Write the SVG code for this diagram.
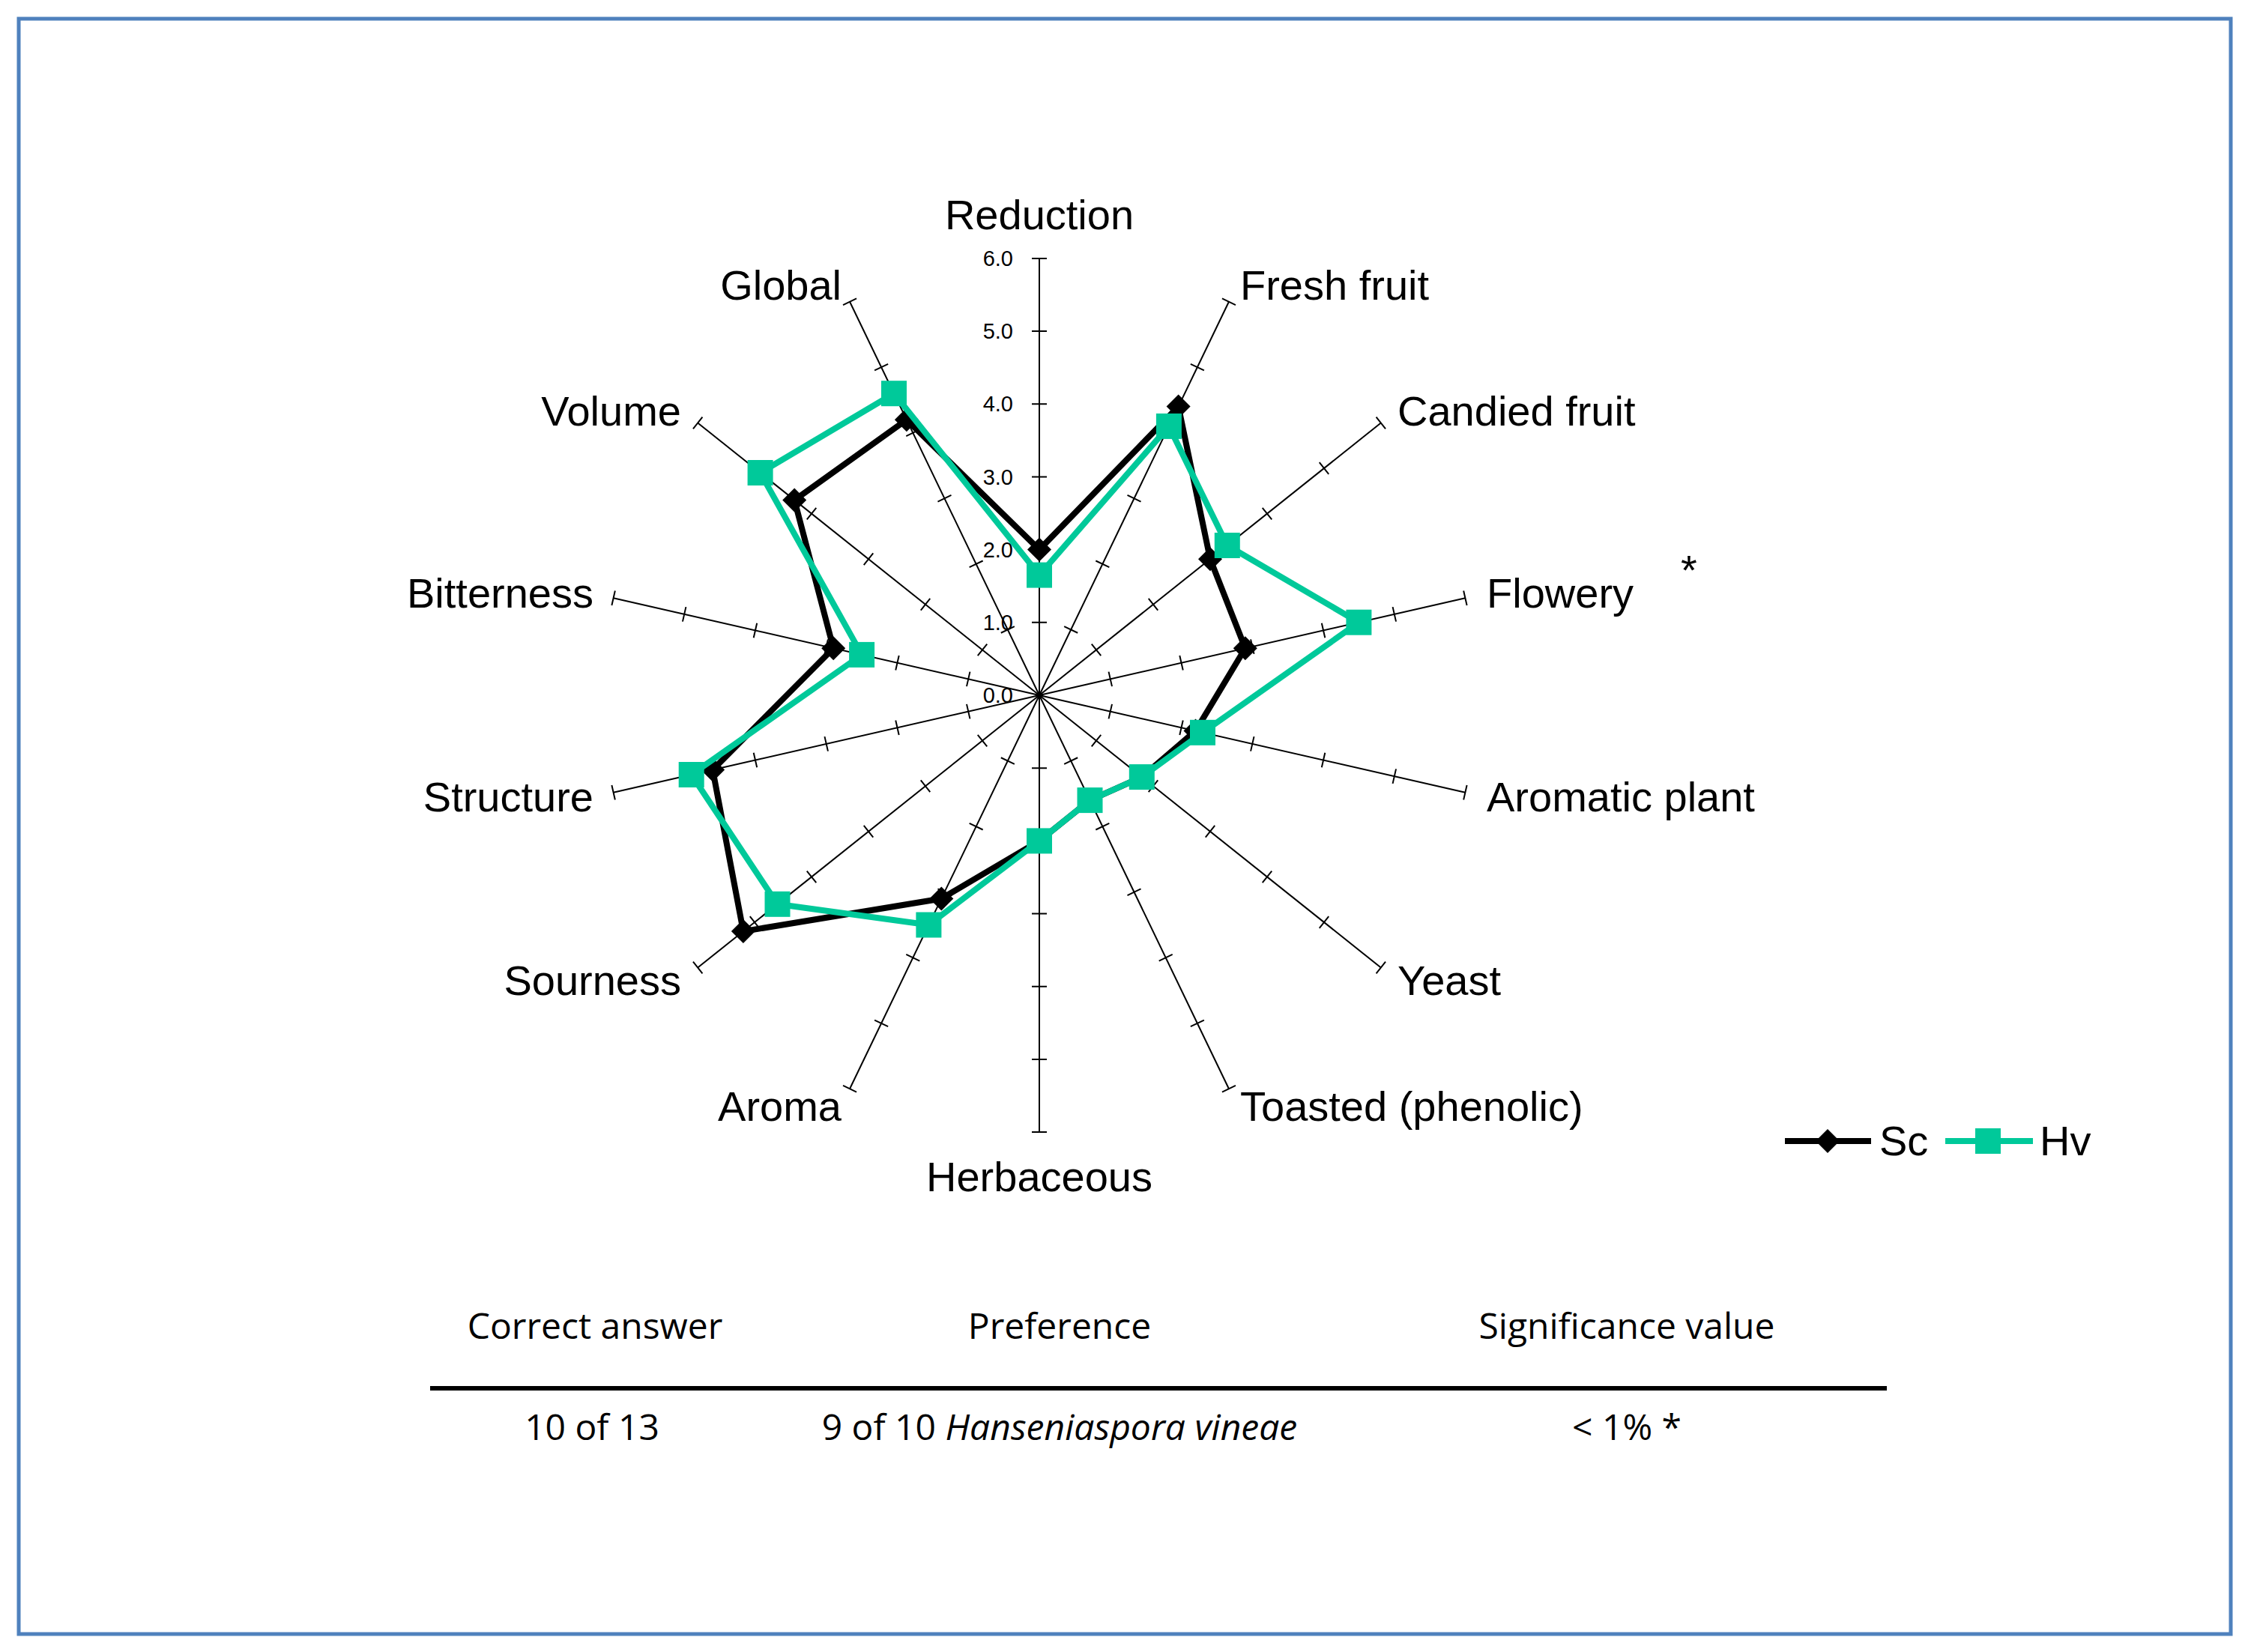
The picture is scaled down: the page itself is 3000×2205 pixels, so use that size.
<svg xmlns="http://www.w3.org/2000/svg" xmlns:xlink="http://www.w3.org/1999/xlink" width="3000" height="2205" viewBox="0 0 3000 2205">
<style>
.lbl{font-family:"Liberation Sans",Arial,sans-serif;font-size:56px;fill:#000}
.tk{font-family:"Liberation Sans",Arial,sans-serif;font-size:29px;fill:#000;text-anchor:end}
.tb{font-family:"Open Sans","Liberation Sans",sans-serif;font-size:48px;fill:#000;text-anchor:middle}
.ax{stroke:#000;stroke-width:2;fill:none}
.sc{stroke:#000;stroke-width:8;fill:none;stroke-linejoin:round}
.hv{stroke:#00C99A;stroke-width:8;fill:none;stroke-linejoin:round}
</style>
<defs>
<g id="axis">
<line class="ax" x1="1387" y1="928" x2="1387" y2="345"/>
<path class="ax" d="M1377 830.8h20M1377 733.6h20M1377 636.4h20M1377 539.2h20M1377 442h20M1377 345h20"/>
</g>
<marker id="dia" markerUnits="userSpaceOnUse" markerWidth="36" markerHeight="36" refX="18" refY="18"><path d="M18 2L34 18L18 34L2 18Z" fill="#000"/></marker>
<marker id="sq" markerUnits="userSpaceOnUse" markerWidth="36" markerHeight="36" refX="18" refY="18"><rect x="1" y="1" width="34" height="34" fill="#00C99A"/></marker>
</defs>
<rect x="25" y="25" width="2952" height="2156" fill="#fff" stroke="#4F81BD" stroke-width="5"/>
<g id="axes">
<use xlink:href="#axis"/>
<use xlink:href="#axis" transform="rotate(25.714 1387 928)"/>
<use xlink:href="#axis" transform="rotate(51.429 1387 928)"/>
<use xlink:href="#axis" transform="rotate(77.143 1387 928)"/>
<use xlink:href="#axis" transform="rotate(102.857 1387 928)"/>
<use xlink:href="#axis" transform="rotate(128.571 1387 928)"/>
<use xlink:href="#axis" transform="rotate(154.286 1387 928)"/>
<use xlink:href="#axis" transform="rotate(180 1387 928)"/>
<use xlink:href="#axis" transform="rotate(205.714 1387 928)"/>
<use xlink:href="#axis" transform="rotate(231.429 1387 928)"/>
<use xlink:href="#axis" transform="rotate(257.143 1387 928)"/>
<use xlink:href="#axis" transform="rotate(282.857 1387 928)"/>
<use xlink:href="#axis" transform="rotate(308.571 1387 928)"/>
<use xlink:href="#axis" transform="rotate(334.286 1387 928)"/>
</g>
<g id="ticklabels">
<text class="tk" x="1352" y="938">0.0</text>
<text class="tk" x="1352" y="841">1.0</text>
<text class="tk" x="1352" y="744">2.0</text>
<text class="tk" x="1352" y="647">3.0</text>
<text class="tk" x="1352" y="549">4.0</text>
<text class="tk" x="1352" y="452">5.0</text>
<text class="tk" x="1352" y="355">6.0</text>
</g>
<g id="series-sc">
<polygon class="sc" marker-start="url(#dia)" marker-mid="url(#dia)" points="1387,733.6 1572.6,542.6 1615,746.2 1661.8,865.3 1595.5,975.6 1523.8,1037.1 1454.5,1068.1 1387,1122.4 1256.3,1199.5 991.9,1243.1 951.1,1027.5 1112.2,865.3 1060.2,667.4 1209.9,560.2"/>
</g>
<g id="series-hv">
<polygon class="hv" marker-start="url(#sq)" marker-mid="url(#sq)" points="1387,767.6 1559.9,568.9 1637.8,728 1813.4,830.7 1605,977.8 1523.8,1037.1 1454.5,1068.1 1387,1122.4 1239.4,1234.5 1037.5,1206.8 922.7,1034 1150.1,873.9 1014.6,631 1193,525.2"/>
</g>
<g id="labels">
<text class="lbl" x="1387" y="306" text-anchor="middle">Reduction</text>
<text class="lbl" x="1655" y="400">Fresh fruit</text>
<text class="lbl" x="1865" y="568">Candied fruit</text>
<text class="lbl" x="1984" y="811">Flowery</text>
<text class="lbl" x="2243" y="780">*</text>
<text class="lbl" x="1984" y="1083">Aromatic plant</text>
<text class="lbl" x="1865" y="1328">Yeast</text>
<text class="lbl" x="1655" y="1496">Toasted (phenolic)</text>
<text class="lbl" x="1387" y="1590" text-anchor="middle">Herbaceous</text>
<text class="lbl" x="1123" y="1496" text-anchor="end">Aroma</text>
<text class="lbl" x="909" y="1328" text-anchor="end">Sourness</text>
<text class="lbl" x="792" y="1083" text-anchor="end">Structure</text>
<text class="lbl" x="792" y="811" text-anchor="end">Bitterness</text>
<text class="lbl" x="909" y="568" text-anchor="end">Volume</text>
<text class="lbl" x="1123" y="400" text-anchor="end">Global</text>
</g>
<g id="legend">
<line class="sc" x1="2382" y1="1523" x2="2497" y2="1523"/>
<path d="M2439 1507L2455 1523L2439 1539L2423 1523Z" fill="#000"/>
<text class="lbl" x="2508" y="1542">Sc</text>
<line class="hv" x1="2596" y1="1523" x2="2713" y2="1523"/>
<rect x="2636" y="1506" width="34" height="34" fill="#00C99A"/>
<text class="lbl" x="2722" y="1542">Hv</text>
</g>
<g id="table">
<text class="tb" x="794" y="1787">Correct answer</text>
<text class="tb" x="1414" y="1787">Preference</text>
<text class="tb" x="2171" y="1787">Significance value</text>
<line x1="574" y1="1853" x2="2518" y2="1853" stroke="#000" stroke-width="6"/>
<text class="tb" x="790" y="1922">10 of 13</text>
<text class="tb" x="1414" y="1922">9 of 10 <tspan font-style="italic">Hanseniaspora vineae</tspan></text>
<text class="tb" x="2171" y="1922">&lt; 1% *</text>
</g>
</svg>
